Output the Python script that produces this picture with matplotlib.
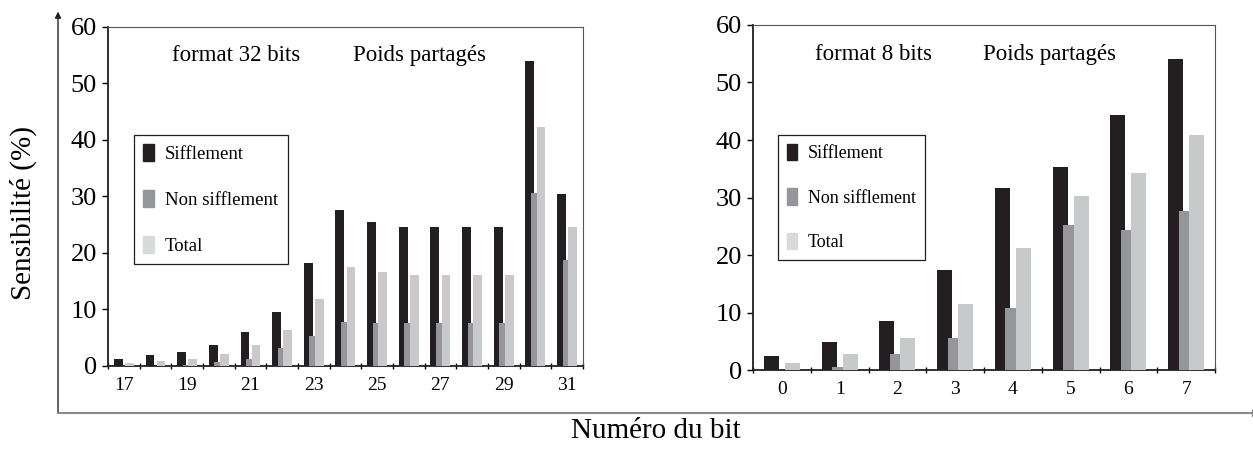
import matplotlib
matplotlib.use("Agg")
import matplotlib.pyplot as plt
import numpy as np
from matplotlib.patches import Patch
from matplotlib.lines import Line2D

plt.rcParams['font.family'] = ['Liberation Serif', 'DejaVu Serif']

# 32 bit format, bits 17..31
bits32 = list(range(17, 32))
siff32 = [1.2, 1.9, 2.5, 3.7, 6.0, 9.5, 18.3, 27.6, 25.4, 24.6, 24.6, 24.6, 24.6, 54.0, 30.4]
nonsiff32 = [0.0, 0.0, 0.2, 0.7, 1.2, 3.2, 5.3, 7.8, 7.6, 7.6, 7.6, 7.6, 7.6, 30.6, 18.7]
total32 = [0.5, 0.9, 1.2, 2.1, 3.7, 6.3, 11.8, 17.6, 16.6, 16.1, 16.1, 16.1, 16.1, 42.3, 24.6]

# 8 bit format, bits 0..7
bits8 = list(range(0, 8))
siff8 = [2.5, 4.9, 8.5, 17.4, 31.7, 35.3, 44.3, 54.1]
nonsiff8 = [0.0, 0.6, 2.8, 5.6, 10.8, 25.2, 24.3, 27.7]
total8 = [1.3, 2.8, 5.6, 11.5, 21.2, 30.3, 34.3, 40.9]

c_siff = "#231f20"
c_non = "#959699"
c_tot = "#c8c9cb"

fig = plt.figure(figsize=(12.53, 4.62), dpi=100)

ax1 = fig.add_axes([0.0862, 0.2078, 0.379, 0.7338])
ax2 = fig.add_axes([0.601, 0.1991, 0.3687, 0.7468])


def draw(ax, bits, s, n, t, w, step, labels, title):
    x = np.arange(len(bits))
    ax.bar(x - step, s, w, color=c_siff, zorder=2)
    ax.bar(x, n, w, color=c_non, zorder=3)
    ax.bar(x + step, t, w, color=c_tot, zorder=4)
    ax.set_xlim(-0.5, len(bits) - 0.5)
    ax.set_ylim(0, 60)
    ax.set_yticks(range(0, 61, 10))
    ax.tick_params(axis='y', direction='out', length=4, width=1, labelsize=19, pad=4)
    ax.set_xticks(x[labels])
    ax.set_xticklabels([str(bits[i]) for i in x[labels]])
    ax.set_xticks(np.arange(len(bits) + 1) - 0.5, minor=True)
    ax.tick_params(axis='x', which='major', length=0, labelsize=14, pad=8)
    ax.tick_params(axis='x', which='minor', direction='inout', length=5, width=1)
    for side in ['left', 'bottom']:
        ax.spines[side].set_linewidth(1.3)
        ax.spines[side].set_color('#231f20')
    for side in ['top', 'right']:
        ax.spines[side].set_linewidth(0.8)
        ax.spines[side].set_color('#555555')
    ax.text(0.135, 0.915, title, transform=ax.transAxes, fontsize=16.5, va='center')
    ax.text(0.515 if len(bits) > 8 else 0.497, 0.915, "Poids partagés",
            transform=ax.transAxes, fontsize=16.5, va='center')


draw(ax1, bits32, siff32, nonsiff32, total32, 0.28, 0.175,
     np.arange(0, 15, 2), "format 32 bits")
draw(ax2, bits8, siff8, nonsiff8, total8, 0.26, 0.182,
     np.arange(0, 8), "format 8 bits")

handles = [Patch(color=c_siff), Patch(color=c_non), Patch(color="#d9dadc")]
names = ["Sifflement", "Non sifflement", "Total"]
for anchor, fs in [((0.107, 0.708), 13.5), ((0.621, 0.708), 13)]:
    leg = fig.legend(handles, names, loc='upper left', bbox_to_anchor=anchor,
                     fontsize=fs, handlelength=0.55, handleheight=1.0,
                     handletextpad=0.6, labelspacing=1.45, borderpad=0.5,
                     borderaxespad=0, fancybox=False, framealpha=1,
                     edgecolor='#231f20')
    leg.get_frame().set_linewidth(0.9)
    leg.set_zorder(10)

# outer axis lines of the whole figure
fig.add_artist(Line2D([0.0463, 0.999], [0.106, 0.106], color='#8a8a8a', lw=1.5))
fig.add_artist(Line2D([0.999, 0.999], [0.100, 0.112], color='#8a8a8a', lw=1.0))
plt.annotate('', xy=(0.0463, 0.975), xytext=(0.0463, 0.106), xycoords='figure fraction',
             arrowprops=dict(arrowstyle='-|>', color='#231f20', lw=1.0,
                             mutation_scale=9, shrinkA=0, shrinkB=0))

fig.text(0.523, 0.068, "Numéro du bit", fontsize=21, ha='center', va='center')
fig.text(0.019, 0.54, "Sensibilité (%)", fontsize=21, ha='center', va='center',
         rotation=90)

plt.savefig("out.png", dpi=100)
